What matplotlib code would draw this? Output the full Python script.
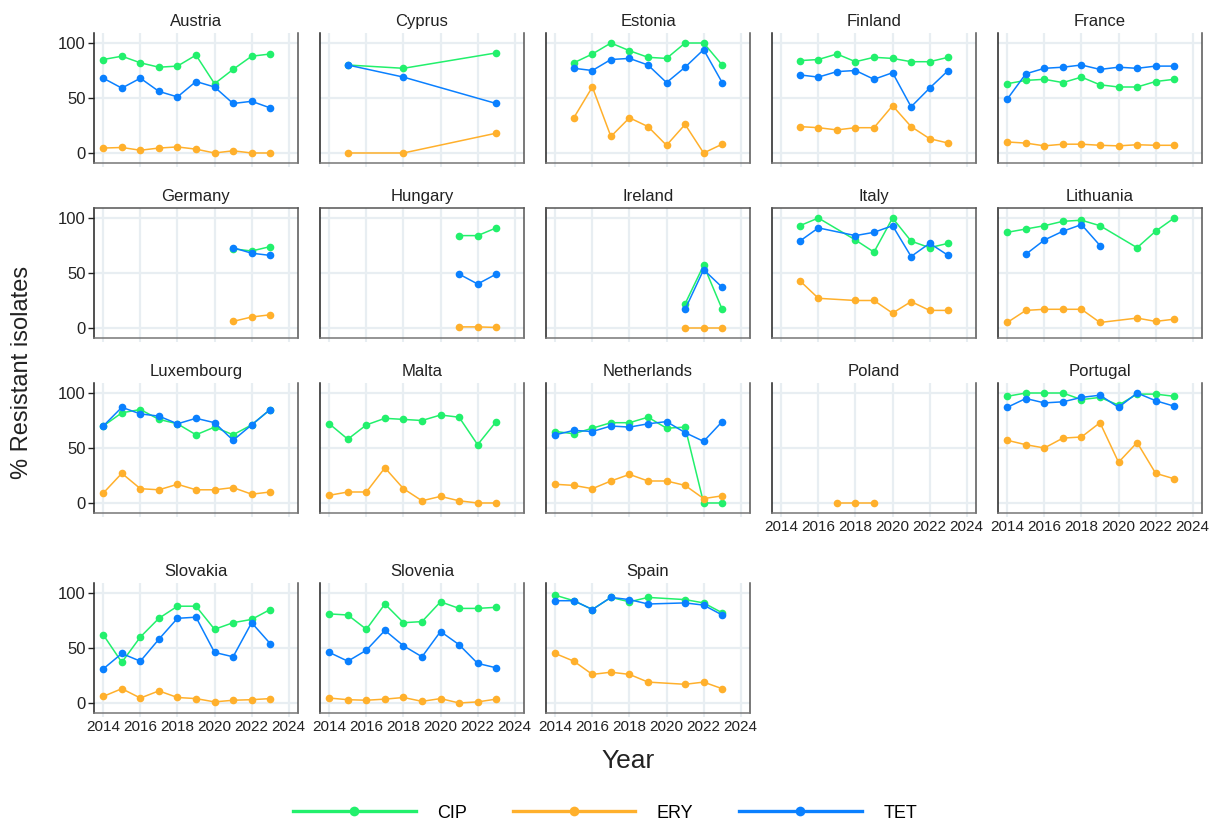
import matplotlib
matplotlib.use("Agg")
import matplotlib.pyplot as plt
from matplotlib.lines import Line2D

plt.rcParams["font.family"] = ["Liberation Sans", "DejaVu Sans"]

YEARS = [2014, 2015, 2016, 2017, 2018, 2019, 2020, 2021, 2022, 2023]
N = None

COUNTRIES = ["Austria", "Cyprus", "Estonia", "Finland", "France",
             "Germany", "Hungary", "Ireland", "Italy", "Lithuania",
             "Luxembourg", "Malta", "Netherlands", "Poland", "Portugal",
             "Slovakia", "Slovenia", "Spain"]

# % resistant isolates per year (2014-2023); None = no data reported
CIP = {
    "Austria":     [85, 88, 82, 78, 79, 89, 63, 76, 88, 90],
    "Cyprus":      [N, 80, N, N, 77, N, N, N, N, 91],
    "Estonia":     [N, 82, 90, 100, 93, 87, 86, 100, 100, 80],
    "Finland":     [N, 84, 85, 90, 83, 87, 86, 83, 83, 87],
    "France":      [63, 66, 67, 64, 69, 62, 60, 60, 65, 67],
    "Germany":     [N, N, N, N, N, N, N, 72, 70, 74],
    "Hungary":     [N, N, N, N, N, N, N, 84, 84, 91],
    "Ireland":     [N, N, N, N, N, N, N, 22, 57, 17],
    "Italy":       [N, 93, 100, N, 80, 69, 100, 79, 73, 77],
    "Lithuania":   [87, 90, 93, 97, 98, 93, N, 73, 88, 100],
    "Luxembourg":  [70, 82, 85, 76, 72, 62, 69, 62, 71, 85],
    "Malta":       [72, 58, 71, 77, 76, 75, 80, 78, 53, 74],
    "Netherlands": [65, 63, 68, 73, 73, 78, 68, 69, 0, 0],
    "Poland":      [N, N, N, N, N, N, N, N, N, N],
    "Portugal":    [97, 100, 100, 100, 94, 96, 89, 99, 99, 97],
    "Slovakia":    [62, 37, 60, 77, 88, 88, 67, 73, 76, 85],
    "Slovenia":    [81, 80, 67, 90, 73, 74, 92, 86, 86, 87],
    "Spain":       [98, 93, 85, 96, 92, 96, N, 94, 91, 82],
}
ERY = {
    "Austria":     [4.5, 5, 2.5, 4.5, 5.5, 3.5, 0, 2, 0, 0],
    "Cyprus":      [N, 0, N, N, 0, N, N, N, N, 18],
    "Estonia":     [N, 32, 60, 15, 32, 24, 7, 26, 0, 8],
    "Finland":     [N, 24, 23, 21, 23, 23, 43, 24, 13, 9],
    "France":      [10, 9, 6.5, 8, 8, 7, 6.5, 7.5, 7, 7],
    "Germany":     [N, N, N, N, N, N, N, 6, 10, 12],
    "Hungary":     [N, N, N, N, N, N, N, 1, 1, 0.5],
    "Ireland":     [N, N, N, N, N, N, N, 0, 0, 0],
    "Italy":       [N, 43, 27, N, 25, 25, 13.5, 24, 16, 16],
    "Lithuania":   [5, 16, 17, 17, 17, 5, N, 9, 6, 8],
    "Luxembourg":  [9, 27, 13, 12, 17, 12, 12, 14, 8, 10],
    "Malta":       [7, 10, 10, 32, 13, 2, 6, 2, 0, 0],
    "Netherlands": [17, 16, 13, 20, 26, 20, 20, 16, 4, 6.5],
    "Poland":      [N, N, N, 0, 0, 0, N, N, N, N],
    "Portugal":    [57, 53, 50, 59, 60, 73, 37, 55, 27, 22],
    "Slovakia":    [6, 13, 4.5, 11, 5, 4, 1, 2.5, 3, 4],
    "Slovenia":    [4.5, 3, 2.5, 3.5, 5, 1.5, 4, 0, 1, 3.5],
    "Spain":       [45, 38, 26, 28, 26, 19, N, 17, 19, 13],
}
TET = {
    "Austria":     [68, 59, 68, 56, 51, 65, 60, 45, 47, 41],
    "Cyprus":      [N, 80, N, N, 69, N, N, N, N, 45],
    "Estonia":     [N, 77, 75, 85, 86, 80, 64, 78, 94, 64],
    "Finland":     [N, 71, 69, 74, 75, 67, 73, 42, 59, 75],
    "France":      [49, 72, 77, 78, 80, 76, 78, 77, 79, 79],
    "Germany":     [N, N, N, N, N, N, N, 73, 68, 66],
    "Hungary":     [N, N, N, N, N, N, N, 49, 40, 49],
    "Ireland":     [N, N, N, N, N, N, N, 17, 53, 37],
    "Italy":       [N, 79, 91, N, 84, 87, 93, 65, 77, 66],
    "Lithuania":   [N, 67, 80, 88, 94, 75, N, N, N, N],
    "Luxembourg":  [70, 87, 81, 79, 72, 77, 73, 57, 71, 85],
    "Malta":       [N, N, N, N, N, N, N, N, N, N],
    "Netherlands": [62, 66, 65, 70, 69, 72, 74, 64, 56, 74],
    "Poland":      [N, N, N, N, N, N, N, N, N, N],
    "Portugal":    [87, 95, 91, 92, 96, 98, 87, 100, 93, 88],
    "Slovakia":    [31, 45, 38, 58, 77, 78, 46, 42, 73, 54],
    "Slovenia":    [46, 38, 48, 66, 52, 42, 65, 53, 36, 32],
    "Spain":       [93, 93, 85, 96, 94, 90, N, 91, 89, 80],
}

SERIES = [("CIP", CIP, "#22f06c"), ("ERY", ERY, "#ffb02c"), ("TET", TET, "#0a80ff")]
X_TICKS = [2014, 2016, 2018, 2020, 2022, 2024]
Y_TICKS = [0, 50, 100]

W, H = 1215, 822
fig = plt.figure(figsize=(W / 100, H / 100), dpi=100)

col_left = [94, 320, 546, 772, 998]
row_top = [33, 208, 383, 583]
pw, ph = 204, 130
grid_col = "#e8eef2"

for i, country in enumerate(COUNTRIES):
    r, c = divmod(i, 5)
    left, top = col_left[c], row_top[r]
    ax = fig.add_axes([left / W, 1 - (top + ph) / H, pw / W, ph / H])
    ax.set_xlim(2013.5, 2024.5)
    ax.set_ylim(-9.1, 109.1)
    ax.set_xticks(X_TICKS)
    ax.set_yticks(Y_TICKS)
    ax.grid(True, color=grid_col, linewidth=1.6)
    ax.set_axisbelow(True)

    for name, table, color in SERIES:
        pts = [(y, v) for y, v in zip(YEARS, table[country]) if v is not None]
        if not pts:
            continue
        xs, vs = zip(*pts)
        ax.plot(xs, vs, color=color, linewidth=1.1, marker="o",
                markersize=5.5, markeredgewidth=0, zorder=3)

    ax.set_title(country, fontsize=12, pad=5, color="#222222")

    ax.spines["left"].set_color("#222222")
    ax.spines["bottom"].set_color("#777777")
    ax.spines["right"].set_color("#555555")
    ax.spines["top"].set_color("#555555")
    for s in ax.spines.values():
        s.set_linewidth(1.1)
    ax.spines["top"].set_visible(r == 1)

    bottom_panel = (r == 3) or (r == 2 and c >= 3)
    ax.tick_params(axis="x", length=3, width=1.5, color=grid_col,
                   labelsize=11, pad=2, labelcolor="#222222",
                   labelbottom=bottom_panel)
    if c == 0:
        ax.tick_params(axis="y", length=4, width=1, color="#222222",
                       labelsize=12, pad=2, labelcolor="#222222")
    else:
        ax.tick_params(axis="y", length=0, labelleft=False)

fig.text(22 / W, 1 - 372 / H, "% Resistant isolates", rotation=90,
         ha="center", va="center", fontsize=17, color="#222222")
fig.text(628 / W, 1 - 761 / H, "Year", ha="center", va="center",
         fontsize=19, color="#222222")

handles = [Line2D([], [], color=col, linewidth=2.4, marker="o",
                  markersize=7, markeredgewidth=0) for _, _, col in SERIES]
fig.legend(handles, [s[0] for s in SERIES], loc="center",
           bbox_to_anchor=(605 / W, 1 - 813 / H), ncol=3, frameon=False,
           fontsize=13, handlelength=6.8, handletextpad=1.2,
           columnspacing=2.5)

fig.savefig("out.png", dpi=100)
